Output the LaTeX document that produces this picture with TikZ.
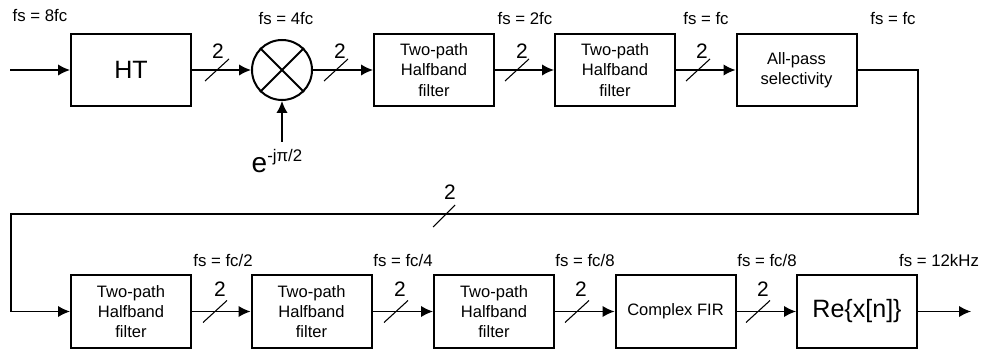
\documentclass[tikz,border=0pt]{standalone}
\usepackage{fontspec}
\setmainfont{Liberation Sans}
\usetikzlibrary{arrows.meta}
\begin{document}
\begin{tikzpicture}[x=0.75pt,y=-0.75pt,
  blk/.style={draw,line width=1.5pt,minimum width=90pt,minimum height=54pt,inner sep=0pt,
    align=center,font=\fontsize{12.4}{15.2}\selectfont},
  bigblk/.style={blk,font=\fontsize{18.8}{22}\selectfont},
  mixer/.style={draw,circle,line width=1.5pt,minimum size=45pt,inner sep=0pt},
  conn/.style={line width=1pt,-{Latex[length=9pt,width=8.5pt]}},
  wire/.style={line width=1pt},
  busmark/.style={line width=0.8pt},
  buslabel/.style={font=\fontsize{15.7}{16}\selectfont,inner sep=0pt},
  fslabel/.style={font=\fontsize{12.6}{14}\selectfont,inner sep=0pt}]
\useasboundingbox (0,0) rectangle (984,352);

% top row
\node[bigblk] (ht) at (131,70) {HT};
\node[mixer] (mix) at (282,70) {};
\draw[line width=1.5pt] (mix.45) -- (mix.225) (mix.135) -- (mix.315);
\node[blk] (hb1) at (434,70) {Two-path\\Halfband\\filter};
\node[blk] (hb2) at (615,70) {Two-path\\Halfband\\filter};
\node[blk] (ap) at (796.5,70) {All-pass\\selectivity};

% bottom row
\node[blk] (hb3) at (131,311.5) {Two-path\\Halfband\\filter};
\node[blk] (hb4) at (311.5,311.5) {Two-path\\Halfband\\filter};
\node[blk] (hb5) at (494,311.5) {Two-path\\Halfband\\filter};
\node[blk] (cf) at (675.5,311.5) {Complex FIR};
\node[bigblk] (re) at (857,311.5) {Re\{x[n]\}};

% coordinates
\coordinate (in) at (10,70);
\coordinate (ein) at (282,142);
\coordinate (c1) at (918,70);
\coordinate (c2) at (918,214);
\coordinate (c3) at (11,214);
\coordinate (c4) at (11,311.5);
\coordinate (out) at (971,311.5);

% connectors
\draw[conn] (in) -- (ht.west);
\draw[conn] (ht.east) -- (mix.west);
\draw[conn] (mix.east) -- (hb1.west);
\draw[conn] (hb1.east) -- (hb2.west);
\draw[conn] (hb2.east) -- (ap.west);
\draw[conn] (ein) -- (mix.south);
\draw[conn] (ap.east) -- (c1) -- (c2) -- (c3) -- (c4) -- (hb3.west);
\draw[conn] (hb3.east) -- (hb4.west);
\draw[conn] (hb4.east) -- (hb5.west);
\draw[conn] (hb5.east) -- (cf.west);
\draw[conn] (cf.east) -- (re.west);
\draw[conn] (re.east) -- (out);

% bus marks
\foreach \x in {217,336,517,698} {
  \draw[busmark] (\x-12,81) -- (\x+12,59);
}
\foreach \x in {215,396,577,758} {
  \draw[busmark] (\x-12,322.5) -- (\x+12,300.5);
}
\draw[busmark] (433,227) -- (455,205);

% bus labels
\node[buslabel] (b1) at (218,51) {2};
\node[buslabel] (b2) at (340,51) {2};
\node[buslabel] (b3) at (522,51) {2};
\node[buslabel] (b4) at (702,51) {2};
\node[buslabel] (b5) at (450,192) {2};
\node[buslabel] (b6) at (220,289) {2};
\node[buslabel] (b7) at (400,289) {2};
\node[buslabel] (b8) at (581,289) {2};
\node[buslabel] (b9) at (763,289) {2};

% fs labels
\node[fslabel] (f1) at (40,16) {fs = 8fc};
\node[fslabel] (f2) at (286,18.5) {fs = 4fc};
\node[fslabel] (f3) at (525,18.5) {fs = 2fc};
\node[fslabel] (f4) at (706,18.5) {fs = fc};
\node[fslabel] (f5) at (893,18.5) {fs = fc};
\node[fslabel] (f6) at (223,260) {fs = fc/2};
\node[fslabel] (f7) at (403,260) {fs = fc/4};
\node[fslabel] (f8) at (585,260) {fs = fc/8};
\node[fslabel] (f9) at (767,260) {fs = fc/8};
\node[fslabel] (f10) at (939,260) {fs = 12kHz};

% exponential
\node[font=\fontsize{21}{22}\selectfont,inner sep=0pt,anchor=base] (e) at (259.5,173) {e};
\node[font=\fontsize{12.6}{14}\selectfont,inner sep=0pt,anchor=base west] (ex) at (267,162) {-jπ/2};
\end{tikzpicture}
\end{document}
